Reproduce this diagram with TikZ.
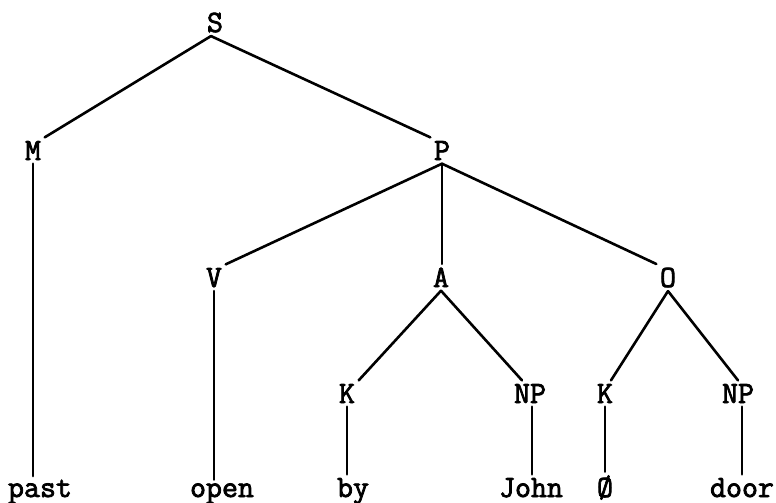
\documentclass[tikz,border=0pt]{standalone}
\usepackage{fontspec}
\setmonofont[FakeBold=2.5]{Latin Modern Mono}
\begin{document}
\begin{tikzpicture}[x=1pt,y=-1pt,
  lab/.style={font=\ttfamily\fontsize{31}{34}\selectfont, anchor=base, inner sep=3.5pt},
  br/.style={line width=2.6pt, line cap=round}]
\useasboundingbox[fill=white] (0,0) rectangle (776,503);
% internal nodes
\node[lab] (S)   at (215,32)  {S};
\node[lab] (M)   at (33,160)  {M};
\node[lab] (P)   at (442,160) {P};
\node[lab] (V)   at (214,287) {V};
\node[lab] (A)   at (441,287) {A};
\node[lab] (O)   at (668,287) {O};
\node[lab] (K1)  at (347,403) {K};
\node[lab] (NP1) at (530,403) {NP};
\node[lab] (K2)  at (605,403) {K};
\node[lab] (NP2) at (738,403) {NP};
% leaves
\node[lab] (past) at (40,497)  {past};
\node[lab] (open) at (222,497) {open};
\node[lab] (by)   at (353,497) {by};
\node[lab] (John) at (531,497) {John};
\node[lab] (null) at (605,497) {Ø};
\node[lab] (door) at (742,497) {door};
% branches
\draw[br] ([xshift=-4pt]S.south) -- (M.north east);
\draw[br] ([xshift=-4pt]S.south) -- (P.north west);
\draw[br] (P.south) -- (V.north east);
\draw[br] (P.south) -- (P.south |- A.north);
\draw[br] (P.south) -- (O.north west);
\draw[br] (A.south) -- (K1.north east);
\draw[br] (A.south) -- ([xshift=-8pt]NP1.north);
\draw[br] (O.south) -- ([xshift=6pt]K2.north);
\draw[br] (O.south) -- (NP2.north);
% unary branches
\draw[br] (M.south) -- (M.south |- past.north);
\draw[br] (V.south) -- (V.south |- open.north);
\draw[br] (K1.south) -- (K1.south |- by.north);
\draw[br] ([xshift=2pt]NP1.south) -- ([xshift=2pt]NP1.south |- John.north);
\draw[br] (K2.south) -- (K2.south |- null.north);
\draw[br] ([xshift=4pt]NP2.south) -- ([xshift=4pt]NP2.south |- door.north);
\end{tikzpicture}
\end{document}
